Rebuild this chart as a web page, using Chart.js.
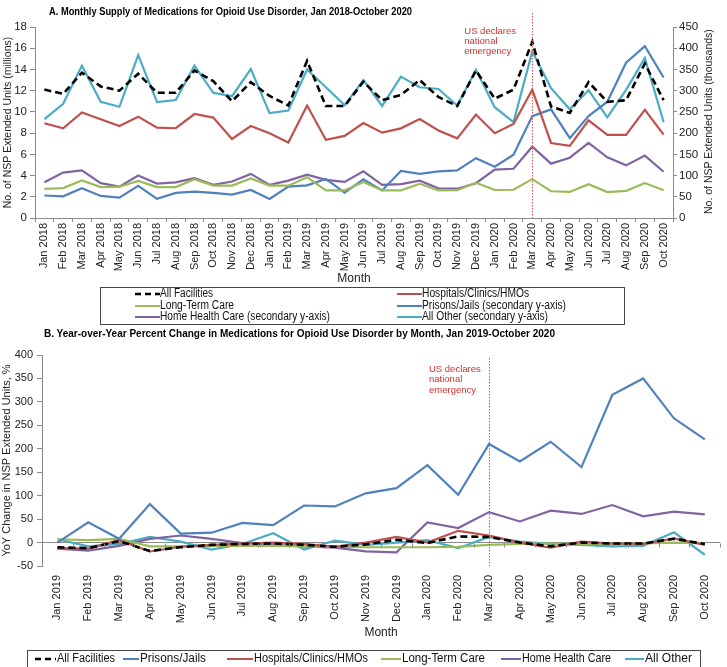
<!DOCTYPE html>
<html><head><meta charset="utf-8">
<script src="https://cdn.jsdelivr.net/npm/chart.js@4.4.1/dist/chart.umd.min.js"></script>
<style>
html,body{margin:0;padding:0;background:#fff;}
body{width:727px;height:667px;overflow:hidden;position:relative;font-family:"Liberation Sans",Arial,sans-serif;color:#000;}
canvas{position:absolute;left:0;}
#cA{top:0;}
#cB{top:336px;}
.ttl{position:absolute;font-weight:bold;font-size:10px;white-space:nowrap;transform-origin:0 50%;line-height:12px;}
.lgbox{position:absolute;border:1px solid #444;box-sizing:border-box;}
.li{position:absolute;font-family:"Liberation Sans Narrow","Liberation Sans",Arial,sans-serif;font-size:12px;white-space:nowrap;line-height:13px;transform-origin:0 50%;color:#111;}
.ln{position:absolute;height:0;}
.rt{position:absolute;font-size:10.5px;white-space:nowrap;transform-origin:0 0;color:#222;}
</style></head>
<body>
<canvas id="cA" width="727" height="286"></canvas>
<canvas id="cB" width="727" height="331"></canvas>
<div class="ttl" id="tA" style="left:49px;top:6px;">A. Monthly Supply of Medications for Opioid Use Disorder, Jan 2018-October 2020</div>
<div class="ttl" id="tB" style="left:44px;top:328px;">B. Year-over-Year Percent Change in Medications for Opioid Use Disorder by Month, Jan 2019-October 2020</div>
<div class="rt" id="rtA">No. of NSP Extended Units (thousands)</div>
<div id="legA"></div>
<div id="legB"></div>
<script>
// ---------- Panel A data ----------
const monthsA = ['Jan 2018','Feb 2018','Mar 2018','Apr 2018','May 2018','Jun 2018','Jul 2018','Aug 2018','Sep 2018','Oct 2018','Nov 2018','Dec 2018',
 'Jan 2019','Feb 2019','Mar 2019','Apr 2019','May 2019','Jun 2019','Jul 2019','Aug 2019','Sep 2019','Oct 2019','Nov 2019','Dec 2019',
 'Jan 2020','Feb 2020','Mar 2020','Apr 2020','May 2020','Jun 2020','Jul 2020','Aug 2020','Sep 2020','Oct 2020'];
// millions (primary axis)
const allFacilitiesA = [12.1,11.7,13.7,12.4,12.0,13.6,11.8,11.8,13.9,12.9,11.0,12.8, 11.5,10.6,14.8,10.55,10.55,12.85,11.1,11.6,13.0,11.4,10.55,13.9, 11.25,12.1,16.6,10.5,9.9,12.8,10.95,11.1,14.55,11.1];
const hospitalsA = [8.93,8.46,9.95,9.3,8.67,9.55,8.52,8.46,9.8,9.46,7.45,8.67, 7.99,7.12,10.6,7.37,7.74,8.95,8.04,8.45,9.33,8.25,7.51,9.75, 7.99,8.86,12.1,7.07,6.8,9.2,7.83,7.83,10.2,7.86];
const longTermCareA = [2.75,2.82,3.54,2.91,2.95,3.5,2.91,2.91,3.66,3.05,3.05,3.72, 3.05,3.05,3.85,2.6,2.6,3.4,2.6,2.6,3.22,2.6,2.62,3.32, 2.64,2.66,3.66,2.52,2.46,3.19,2.44,2.56,3.29,2.62];
// thousands (secondary axis)
const prisonsA = [53,51,70,52,48,76,45,59,62,59,55,66, 45,74,77,92,60,91,65,111,104,110,112,141, 121,149,240,256,188,240,274,366,405,331];
const homeHealthA = [84,107,112,82,74,100,81,84,94,78,86,104, 78,88,102,90,85,110,78,80,88,70,69,82, 114,116,168,128,142,177,143,124,147,109];
const allOtherA = [233,269,359,274,262,384,273,278,359,295,287,351, 247,253,350,308,266,325,264,333,308,304,265,349, 261,226,392,306,256,301,237,302,377,226];

// ---------- Panel B data (YoY %) ----------
const monthsB = ['Jan 2019','Feb 2019','Mar 2019','Apr 2019','May 2019','Jun 2019','Jul 2019','Aug 2019','Sep 2019','Oct 2019','Nov 2019','Dec 2019',
 'Jan 2020','Feb 2020','Mar 2020','Apr 2020','May 2020','Jun 2020','Jul 2020','Aug 2020','Sep 2020','Oct 2020'];
const allFacilitiesB = [-10,-12,3,-18,-10,-5,-3,-2,-5,-9,-4,6, -1,13,12,0,-8,0,-2,-2,8,-3];
const prisonsB = [0,43,8,82,19,21,42,37,79,77,105,116, 165,102,210,173,215,161,315,350,265,220];
const hospitalsB = [-12,-13,5,-19,-9,-5,-2,0,-3,-9,0,12, 0,25,15,0,-11,2,-2,-3,9,-5];
const longTermCareB = [7,5,8,-8,-8,-7,-7,-7,-8,-9,-10,-10, -10,-9,-5,-3,-2,-3,-3,-2,0,-2];
const homeHealthB = [-13,-17,-7,8,15,8,-1,-5,-8,-11,-19,-21, 43,31,65,45,68,61,80,56,66,60];
const allOtherB = [7,-8,-3,12,2,-15,-3,20,-15,4,-5,0, 5,-12,12,2,-3,-5,-8,-7,22,-26];

const eventMonth = 'Mar 2020';
const eventText = ['US declares','national','emergency'];

const C = {all:'#000000', prison:'#4F81BD', hosp:'#C0504D', ltc:'#9BBB59', hhc:'#8064A2', other:'#4BACC6'};
const FONT = '"Liberation Sans", Arial, sans-serif';
const AX = '#8a8a8a';

function ds(label, data, color, axis, dashed){
  return {label, data, yAxisID:axis, borderColor:color, backgroundColor:color, borderWidth:dashed?2.6:2.2,
    borderDash:dashed?[7,4]:[], pointRadius:0, tension:0, fill:false};
}

const eventPlugin = {
  id:'eventLine',
  afterDatasetsDraw(chart, args, opts){
    const x = chart.scales.x.getPixelForValue(chart.data.labels.indexOf(eventMonth));
    const ctx = chart.ctx;
    ctx.save();
    ctx.strokeStyle = '#d9534f'; ctx.lineWidth = 1; ctx.setLineDash([1.5,1.5]);
    ctx.beginPath(); ctx.moveTo(Math.round(x)+0.5, opts.top); ctx.lineTo(Math.round(x)+0.5, chart.chartArea.bottom); ctx.stroke();
    ctx.setLineDash([]);
    ctx.fillStyle = '#d2312c'; ctx.font = '9.5px ' + FONT; ctx.textBaseline = 'middle';
    eventText.forEach((t,i)=>ctx.fillText(t, x - opts.dx, opts.ty + i*opts.lh));
    ctx.restore();
  }
};

const zeroTicks = {
  id:'zeroTicks',
  afterDraw(chart){
    const xs = chart.scales.x, ys = chart.scales.y, ctx = chart.ctx;
    const y0 = Math.round(ys.getPixelForValue(0)) + 0.5;
    const half = (xs.getPixelForValue(1) - xs.getPixelForValue(0))/2;
    ctx.save(); ctx.strokeStyle = AX; ctx.lineWidth = 1;
    for (let i=0;i<chart.data.labels.length;i++){
      const x = Math.round(xs.getPixelForValue(i)+half)+0.5;
      ctx.beginPath(); ctx.moveTo(x,y0); ctx.lineTo(x,y0+4); ctx.stroke();
    }
    ctx.restore();
  }
};

Chart.defaults.font.family = FONT;
Chart.defaults.color = '#222';

new Chart(document.getElementById('cA'), {
  type:'line',
  data:{labels:monthsA, datasets:[
    ds('All Facilities', allFacilitiesA, C.all, 'y', true),
    ds('Hospitals/Clinics/HMOs', hospitalsA, C.hosp, 'y'),
    ds('Long-Term Care', longTermCareA, C.ltc, 'y'),
    ds('Prisons/Jails (secondary y-axis)', prisonsA, C.prison, 'y2'),
    ds('Home Health Care (secondary y-axis)', homeHealthA, C.hhc, 'y2'),
    ds('All Other (secondary y-axis)', allOtherA, C.other, 'y2')
  ]},
  options:{
    responsive:false, animation:false, events:[],
    layout:{padding:{top:27,left:0,right:0,bottom:0}},
    plugins:{legend:{display:false}, tooltip:{enabled:false}, eventLine:{top:13, dx:68, ty:31, lh:10}},
    scales:{
      x:{offset:true,
         grid:{display:true, drawOnChartArea:false, offset:true, tickLength:4, color:AX},
         border:{color:AX},
         ticks:{autoSkip:false, minRotation:90, maxRotation:90, padding:1, font:{size:11}, color:'#222'},
         title:{display:true, text:'Month', font:{size:12}, padding:{top:0,bottom:0}, color:'#222'},
         afterFit(s){ s.height = 68; }},
      y:{position:'left', min:0, max:18,
         ticks:{stepSize:2, padding:3, font:{size:11.5}, color:'#222'},
         grid:{drawOnChartArea:false, tickLength:5, color:AX},
         border:{color:AX},
         title:{display:true, text:'No. of NSP Extended Units (millions)', font:{size:10.5}, padding:{top:2,bottom:0}, color:'#222'},
         afterFit(s){ s.width = 35; }},
      y2:{position:'right', min:0, max:450,
         ticks:{stepSize:50, padding:2, font:{size:11.5}, color:'#222'},
         grid:{drawOnChartArea:false, tickLength:4, color:AX},
         border:{color:AX},
         afterFit(s){ s.width = 54; }}
    }
  },
  plugins:[eventPlugin]
});

new Chart(document.getElementById('cB'), {
  type:'line',
  data:{labels:monthsB, datasets:[
    ds('All Facilities', allFacilitiesB, C.all, 'y', true),
    ds('Prisons/Jails', prisonsB, C.prison, 'y'),
    ds('Hospitals/Clinics/HMOs', hospitalsB, C.hosp, 'y'),
    ds('Long-Term Care', longTermCareB, C.ltc, 'y'),
    ds('Home Health Care', homeHealthB, C.hhc, 'y'),
    ds('All Other', allOtherB, C.other, 'y')
  ]},
  options:{
    responsive:false, animation:false, events:[],
    layout:{padding:{top:19,left:0,right:0,bottom:0}},
    plugins:{legend:{display:false}, tooltip:{enabled:false}, eventLine:{top:22, dx:60, ty:33, lh:10.7}},
    scales:{
      x:{offset:true,
         grid:{display:false, drawTicks:false},
         border:{display:false},
         ticks:{autoSkip:false, minRotation:90, maxRotation:90, padding:9, font:{size:11}, color:'#222'},
         title:{display:true, text:'Month', font:{size:12}, padding:{top:0,bottom:27}, color:'#222'},
         afterFit(s){ s.height = 101; }},
      y:{min:-50, max:400,
         ticks:{stepSize:50, padding:4, font:{size:11}, color:'#222'},
         grid:{drawOnChartArea:true, color:(c)=> (c.tick && c.tick.value===0) ? AX : 'rgba(0,0,0,0)', tickColor:AX, tickLength:5},
         border:{color:AX},
         title:{display:true, text:'YoY Change in NSP Extended Units, %', font:{size:11}, padding:{top:0,bottom:0}, color:'#222'},
         afterFit(s){ s.width = 42; }}
    }
  },
  plugins:[eventPlugin, zeroTicks]
});

// ---------- HTML legends ----------
function lineSample(x, y, w, color, dashed){
  if (dashed){
    return `<svg style="position:absolute;left:${x}px;top:${y-2}px" width="${w}" height="4"><line x1="0" y1="2" x2="${w}" y2="2" stroke="${color}" stroke-width="2.6" stroke-dasharray="6,4"/></svg>`;
  }
  return `<div class="ln" style="left:${x}px;top:${y-1}px;width:${w}px;border-top:2px solid ${color};"></div>`;
}
// [text, color, dashed, lineX, rowY, lineW, textWidth]
const legAItems = [
  ['All Facilities', C.all, true, 135, 294, 25, 53],
  ['Hospitals/Clinics/HMOs', C.hosp, false, 397, 294, 25, 107],
  ['Long-Term Care', C.ltc, false, 135, 305.5, 25, 74],
  ['Prisons/Jails (secondary y-axis)', C.prison, false, 397, 305.5, 25, 144],
  ['Home Health Care (secondary y-axis)', C.hhc, false, 135, 317, 25, 170],
  ['All Other (secondary y-axis)', C.other, false, 397, 317, 25, 126]
];
let h = '<div class="lgbox" style="left:100px;top:287px;width:525px;height:38px;"></div>';
legAItems.forEach(([t,c,d,x,y,w,tw],i)=>{
  h += lineSample(x, y, w, c, d);
  h += `<div class="li fit" data-w="${tw}" style="left:${x+w}px;top:${y-7}px;">${t}</div>`;
});
document.getElementById('legA').innerHTML = h;

const legBItems = [
  ['All Facilities', C.all, true, 35, 21, 58],
  ['Prisons/Jails', C.prison, false, 123, 16, 66],
  ['Hospitals/Clinics/HMOs', C.hosp, false, 227, 26, 114],
  ['Long-Term Care', C.ltc, false, 381, 20, 83],
  ['Home Health Care', C.hhc, false, 501, 20, 89],
  ['All Other', C.other, false, 625, 19, 47]
];
let hb = '<div class="lgbox" style="left:27px;top:650px;width:674px;height:18px;"></div>';
legBItems.forEach(([t,c,d,x,w,tw])=>{
  hb += lineSample(x, 659, w, c, d);
  hb += `<div class="li fit" data-w="${tw}" style="left:${x+w+1}px;top:652px;">${t}</div>`;
});
document.getElementById('legB').innerHTML = hb;

document.querySelectorAll('.fit').forEach(el=>{
  const r = el.getBoundingClientRect().width;
  el.style.transform = 'scaleX(' + (parseFloat(el.dataset.w)/r) + ')';
});

// right axis title of panel A, reading bottom-to-top
const rt = document.getElementById('rtA');
const rw = rt.getBoundingClientRect().width;
rt.style.left = '702px';
rt.style.top = (122 + rw/2) + 'px';
rt.style.transform = 'rotate(-90deg)';

function fitW(id, w){
  const el = document.getElementById(id);
  const r = el.getBoundingClientRect().width;
  el.style.transform = 'scaleX(' + (w/r) + ')';
}
fitW('tA', 363);
fitW('tB', 511);
</script>
</body></html>
